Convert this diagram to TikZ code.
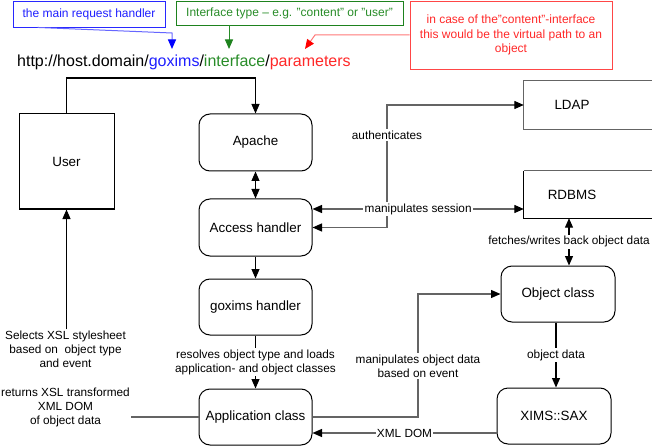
\documentclass[tikz,border=0pt]{standalone}
\usepackage{fontspec}
\setmainfont{Liberation Sans}
\usetikzlibrary{arrows.meta,calc}
\definecolor{cblue}{RGB}{30,30,255}
\definecolor{cblueb}{RGB}{40,40,255}
\definecolor{cgreen}{RGB}{40,140,40}
\definecolor{cgreenb}{RGB}{30,130,30}
\definecolor{cred}{RGB}{255,40,40}
\definecolor{credb}{RGB}{255,70,70}
\definecolor{credl}{RGB}{255,120,120}
\definecolor{cgray}{RGB}{100,100,100}
\tikzset{
  tip/.tip={Triangle[length=9.5pt,width=8pt,color=black]},
  rbox/.style={draw=black, line width=1pt, rounded corners=11pt, minimum width=113pt, minimum height=57pt, inner sep=0pt, font=\fontsize{13.4}{15}\selectfont},
  sqbox/.style={draw=black, line width=1pt, inner sep=0pt, font=\fontsize{13.4}{15}\selectfont},
  boxtext/.style={inner sep=0pt, font=\fontsize{13.4}{15}\selectfont},
  openbox/.style={line width=1.1pt, draw=cgray},
  note/.style={line width=0.9pt, inner sep=0pt, align=center, font=\fontsize{12}{14.5}\selectfont},
  lbl/.style={fill=white, inner sep=1.2pt, align=center, font=\fontsize{11.8}{14}\selectfont},
  arr/.style={line width=1.1pt, -tip},
  darr/.style={line width=1.1pt, tip-tip},
  garr/.style={line width=1.3pt, draw=cgray, -tip},
  gdarr/.style={line width=1.3pt, draw=cgray, tip-tip},
  gline/.style={line width=1.3pt, draw=cgray},
}
\begin{document}
\begin{tikzpicture}[x=1pt,y=-1pt]
\useasboundingbox (0,0) rectangle (652,446);

% annotation boxes
\node[note, draw=cblueb, text=cblue, minimum width=152pt, minimum height=26pt] (blue) at (89,14) {the main request handler};
\node[note, draw=cgreenb, text=cgreen, minimum width=227pt, minimum height=24pt] (green) at (289.5,13) {Interface type – e.g. "content" or "user"};
\node[note, draw=credb, text=cred, minimum width=202pt, minimum height=68pt] (red) at (511,35) {in case of the"content"-interface\\this would be the virtual path to an\\object};

% URL
\node[anchor=base west, inner sep=0pt, font=\fontsize{16}{19}\selectfont] (url) at (17,67) {http://host.domain/\textcolor{cblue}{goxims}/\textcolor{cgreen}{interface}/\textcolor{cred}{parameters}};

\coordinate (tb) at (172,49);
\coordinate (bk) at (172,33);
\coordinate (tg) at (229,49);
\coordinate (tr) at (305,49);
\coordinate (rk) at (315,35);

\draw[line width=1pt, blue!60!white, -{Triangle[length=9.5pt,width=8pt,color=blue]}] ($(blue.south west)+(25,0)$) -- (bk) -- (tb);
\draw[line width=1pt, cgreen, -{Triangle[length=9.5pt,width=8pt,color=cgreenb]}] (tg |- green.south) -- (tg);
\draw[line width=1pt, credl, -{Triangle[length=9.5pt,width=8pt,color=red]}] (red.west) -- (rk) -- (tr);

% main nodes
\node[sqbox, minimum width=95pt, minimum height=95pt] (user) at (66.5,161.5) {User};
\node[rbox] (apache) at (255.5,142.5) {Apache};
\node[rbox] (acc) at (255.5,227.5) {Access handler};
\node[rbox, minimum height=56pt] (gox) at (255.5,307) {goxims handler};
\node[rbox, minimum height=56pt] (app) at (255.5,417) {Application class};
\node[rbox, minimum width=114pt, minimum height=56pt] (obj) at (558,294) {Object class};
\node[rbox, minimum width=114pt, minimum height=56pt] (xims) at (554,416) {XIMS::SAX};
\node[boxtext, minimum width=96pt, minimum height=48pt] (ldap) at (572,105) {LDAP};
\node[boxtext, minimum width=96pt, minimum height=47pt] (rdbms) at (572,194.5) {RDBMS};

\draw[openbox] ([xshift=140pt]ldap.north west) -- (ldap.north west) -- (ldap.south west) -- ([xshift=140pt]ldap.south west);
\draw[openbox] ([xshift=140pt]rdbms.north west) -- (rdbms.north west);
\draw[line width=1pt] (rdbms.north west) -- (rdbms.south west) -- ([xshift=140pt]rdbms.south west);

% URL to Apache
\coordinate (uk) at (66.5,78);
\draw[arr] (user.north) -- (uk) -| (apache.north);

% central column
\draw[darr] (apache) -- (acc);
\draw[arr] (acc) -- (gox);
\draw[arr] (gox) -- (app) node[lbl, midway] {resolves object type and loads\\application- and object classes};

% user side
\node[lbl] (sel) at (65.5,349) {Selects XSL stylesheet\\based on\ \ object type\\and event};
\draw[arr] (user |- sel.north) -- (user);
\node[lbl] (ret) at (65.5,407) {returns XSL transformed\\XML DOM\\of object data};
\draw[gline] (app.west) -- (app.west -| ret.east);

% right side
\coordinate (ak) at (387,0);
\draw[gdarr] (acc.east) -| (ak |- ldap.west) -- (ldap.west);
\node[lbl] (authl) at (387,135) {authenticates};

\coordinate (ms) at (0,209);
\draw[gdarr] (acc.east |- ms) -- (rdbms.west |- ms) node[lbl, midway] {manipulates session};

\coordinate (fx) at (569,0);
\draw[darr] (rdbms.south -| fx) -- (obj.north -| fx) node[lbl, midway] {fetches/writes back object data};

\coordinate (mk) at (418,0);
\draw[garr] (app.east) -| (mk |- obj.west) -- (obj.west);
\node[lbl] (mlbl) at (418,366) {manipulates object data\\based on event};

\draw[arr] ($(obj.south)+(-2,0)$) -- ($(xims.north)+(2,0)$) node[lbl, midway] {object data};

\coordinate (xd) at ($(xims.west)+(0,17)$);
\draw[garr] (xd) -- (xd -| app.east) node[lbl, midway] {XML DOM};
\end{tikzpicture}
\end{document}
